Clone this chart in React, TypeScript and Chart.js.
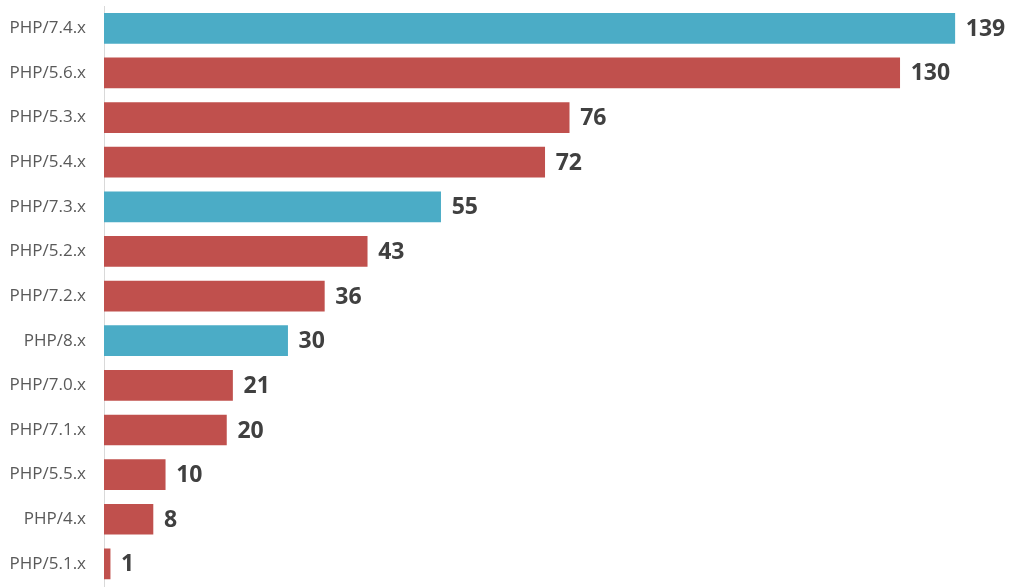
import { useEffect, useRef } from 'react';
import { Chart, registerables } from 'chart.js';

Chart.register(...registerables);

const versions = ['PHP/7.4.x', 'PHP/5.6.x', 'PHP/5.3.x', 'PHP/5.4.x', 'PHP/7.3.x', 'PHP/5.2.x', 'PHP/7.2.x', 'PHP/8.x', 'PHP/7.0.x', 'PHP/7.1.x', 'PHP/5.5.x', 'PHP/4.x', 'PHP/5.1.x'];
const counts = [139, 130, 76, 72, 55, 43, 36, 30, 21, 20, 10, 8, 1];
const supported = [true, false, false, false, true, false, false, true, false, false, false, false, false];

const BLUE = '#4BACC6';
const RED = '#C0504D';

// prints the value just past the end of each bar
const valueLabels = {
    id: 'valueLabels',
    afterDatasetsDraw(chart: Chart) {
        const { ctx } = chart;
        const meta = chart.getDatasetMeta(0);
        ctx.save();
        ctx.font = 'bold 23px "Open Sans", sans-serif';
        ctx.fillStyle = '#404040';
        ctx.textAlign = 'left';
        ctx.textBaseline = 'middle';
        meta.data.forEach((bar: any, i: number) => {
            ctx.fillText(String(counts[i]), bar.x + 11, bar.y + 1);
        });
        ctx.restore();
    },
};

export default function App() {
    const canvasRef = useRef<HTMLCanvasElement | null>(null);
    const chartInstance = useRef<Chart | null>(null);

    useEffect(() => {
        document.body.style.margin = '0';
        if (!canvasRef.current) return;
        const ctx = canvasRef.current.getContext('2d');
        if (!ctx) return;

        chartInstance.current = new Chart(ctx, {
            type: 'bar',
            data: {
                labels: versions,
                datasets: [{
                    data: counts,
                    backgroundColor: supported.map(s => (s ? BLUE : RED)),
                    barThickness: 30,
                    borderWidth: 0,
                }],
            },
            options: {
                indexAxis: 'y',
                animation: false,
                responsive: false,
                layout: { padding: { top: 6, bottom: 0, left: 0, right: 5 } },
                plugins: {
                    legend: { display: false },
                    tooltip: { enabled: false },
                },
                scales: {
                    x: {
                        min: 0,
                        max: 149,
                        display: false,
                    },
                    y: {
                        afterFit: (scale: any) => { scale.width = 104; },
                        // transparent tick marks give the gap between labels and axis
                        grid: { display: true, drawOnChartArea: false, drawTicks: true, tickLength: 18, color: 'rgba(0,0,0,0)' },
                        border: { display: true, color: '#D9D9D9', width: 1 },
                        ticks: {
                            padding: 0,
                            color: '#595959',
                            font: { family: '"Open Sans", sans-serif', size: 17, lineHeight: 0.1 },
                        },
                    },
                },
            },
            plugins: [valueLabels],
        });

        return () => {
            if (chartInstance.current) {
                chartInstance.current.destroy();
                chartInstance.current = null;
            }
        };
    }, []);

    return (
        <div style={{ width: 1021, height: 587, background: '#fff' }}>
            <canvas ref={canvasRef} width={1021} height={587}></canvas>
        </div>
    );
}
